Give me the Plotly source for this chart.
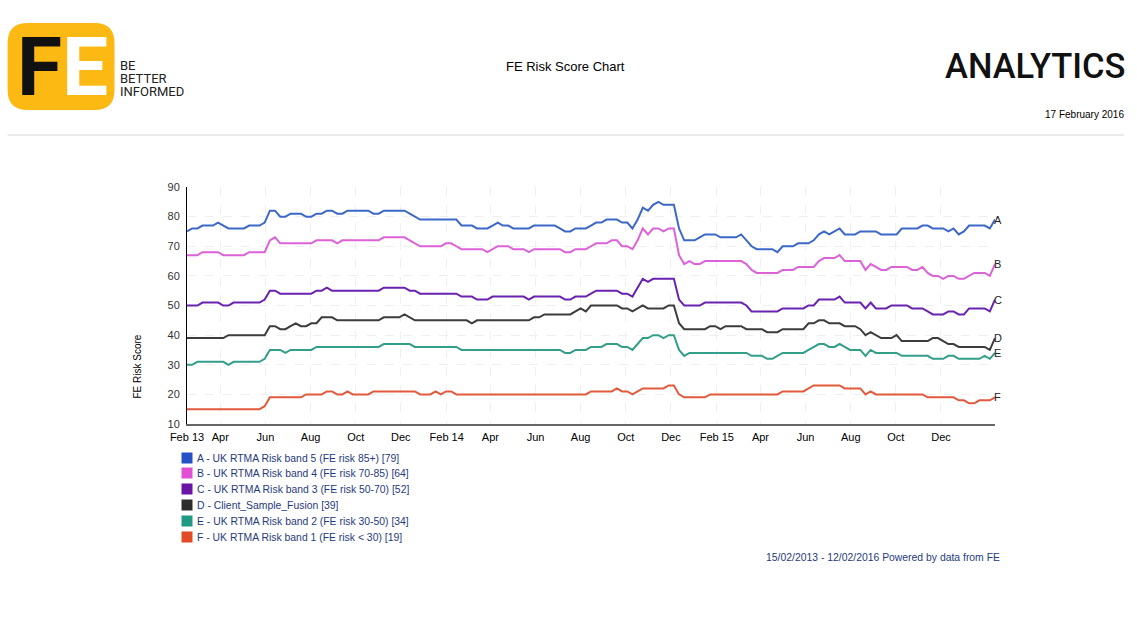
import pandas as pd
import plotly.graph_objects as go

# weekly points, 15 Feb 2013 to 12 Feb 2016
dates = pd.date_range('2013-02-15', periods=157, freq='7D')

band_a = [75,76,76,77,77,77,78,77,76,76, 76,76,77,77,77,78,82,82,80,80,
          81,81,81,80,80,81,81,82,82,81, 81,82,82,82,82,82,81,81,82,82,
          82,82,82,81,80,79,79,79,79,79, 79,79,79,77,77,77,76,76,76,77,
          78,77,77,76,76,76,76,77,77,77, 77,77,76,75,75,76,76,76,77,78,78,
          79,79,79,78,78,76,79,83,82,84, 85,84,84,84,76,72,72,72,73,74,
          74,74,73,73,73,73,74,72,70, 69,69,69,69,68,70,70,70,71,71,
          71,72,74,75,74,75,76,74,74,74, 75,75,75,75,74,74,74,74,76,76,
          76,76,77,77,76,76,76,75,76,74, 75,77,77,77,77,76,79]
band_b = [67,67,67,68,68,68,68,67,67,67, 67,67,68,68,68,68,72,73,71,71,
          71,71,71,71,71,72,72,72,72,71, 72,72,72,72,72,72,72,72,73,73,
          73,73,73,72,71,70,70,70,70,70, 71,71,70,69,69,69,69,69,68,69,
          70,70,70,69,69,69,68,69,69,69, 69,69,69,68,68,69,69,69,70,71,71,
          71,72,72,70,70,69,72,76,74,76, 76,75,76,76,67,64,65,64,64,65,
          65,65,65,65,65,65,65,64,62, 61,61,61,61,61,62,62,62,63,63,
          63,63,65,66,66,66,67,65,65,65, 65,62,64,63,62,62,63,63,63,63,
          62,62,63,61,60,60,59,60,60,59, 59,60,61,61,61,60,64]
band_c = [50,50,50,51,51,51,51,50,50,51, 51,51,51,51,51,52,55,55,54,54,
          54,54,54,54,54,55,55,56,55,55, 55,55,55,55,55,55,55,55,56,56,
          56,56,56,55,55,54,54,54,54,54, 54,54,54,53,53,53,52,52,52,53,
          53,53,53,53,53,53,52,53,53,53, 53,53,53,52,52,53,53,53,54,55,55,
          55,55,55,54,54,53,56,59,58,59, 59,59,59,59,52,50,50,50,50,51,
          51,51,51,51,51,51,51,50,48, 48,48,48,48,48,49,49,49,49,49,
          50,50,52,52,52,52,53,51,51,51, 51,49,51,49,49,49,50,50,50,50,
          49,49,49,48,47,47,47,48,48,47, 47,49,49,49,49,48,52]
client = [39,39,39,39,39,39,39,39,40,40, 40,40,40,40,40,40,43,43,42,42,
          43,44,43,43,44,44,46,46,46,45, 45,45,45,45,45,45,45,45,46,46,
          46,46,47,46,45,45,45,45,45,45, 45,45,45,45,45,44,45,45,45,45,
          45,45,45,45,45,45,45,46,46,47, 47,47,47,47,47,48,49,48,50,50,50,
          50,50,50,49,49,48,49,50,49,49, 49,49,50,50,44,42,42,42,42,42,
          43,43,42,43,43,43,43,42,42, 42,42,41,41,41,42,42,42,42,42,
          44,44,45,45,44,44,44,43,43,43, 42,40,41,40,39,39,39,40,38,38,
          38,38,38,38,39,39,38,37,37,36, 36,36,36,36,36,35,39]
band_e = [30,30,31,31,31,31,31,31,30,31, 31,31,31,31,31,32,35,35,35,34,
          35,35,35,35,35,36,36,36,36,36, 36,36,36,36,36,36,36,36,37,37,
          37,37,37,37,36,36,36,36,36,36, 36,36,36,35,35,35,35,35,35,35,
          35,35,35,35,35,35,35,35,35,35, 35,35,35,34,34,35,35,35,36,36,36,
          37,37,37,36,36,35,37,39,39,40, 40,39,40,40,35,33,34,34,34,34,
          34,34,34,34,34,34,34,34,33, 33,33,32,32,33,34,34,34,34,34,
          35,36,37,37,36,36,37,36,35,35, 35,33,35,34,34,34,34,34,33,33,
          33,33,33,33,32,32,32,33,33,32, 32,32,32,32,33,32,34]
band_f = [15,15,15,15,15,15,15,15,15,15, 15,15,15,15,15,16,19,19,19,19,
          19,19,19,20,20,20,20,21,21,20, 20,21,20,20,20,20,21,21,21,21,
          21,21,21,21,21,20,20,20,21,20, 21,21,20,20,20,20,20,20,20,20,
          20,20,20,20,20,20,20,20,20,20, 20,20,20,20,20,20,20,20,21,21,21,
          21,21,22,21,21,20,21,22,22,22, 22,22,23,23,20,19,19,19,19,19,
          20,20,20,20,20,20,20,20,20, 20,20,20,20,20,21,21,21,21,21,
          22,23,23,23,23,23,23,22,22,22, 22,20,21,20,20,20,20,20,20,20,
          20,20,20,19,19,19,19,19,19,18, 18,17,17,18,18,18,19]

letters = ['A', 'B', 'C', 'D', 'E', 'F']
names = ['A - UK RTMA Risk band 5 (FE risk 85+) [79]',
         'B - UK RTMA Risk band 4 (FE risk 70-85) [64]',
         'C - UK RTMA Risk band 3 (FE risk 50-70) [52]',
         'D - Client_Sample_Fusion [39]',
         'E - UK RTMA Risk band 2 (FE risk 30-50) [34]',
         'F - UK RTMA Risk band 1 (FE risk < 30) [19]']
series = [band_a, band_b, band_c, client, band_e, band_f]
line_colors = ['#3c68c8', '#dd62d8', '#6a22b0', '#3c3c3c', '#339f8a', '#e25a3c']
swatch_colors = ['#2450c8', '#e04fd6', '#6a14a8', '#2d2d2d', '#1f9a84', '#e24a26']

tick_dates = ['2013-02-15', '2013-04-01', '2013-06-01', '2013-08-01', '2013-10-01', '2013-12-01',
              '2014-02-01', '2014-04-01', '2014-06-01', '2014-08-01', '2014-10-01', '2014-12-01',
              '2015-02-01', '2015-04-01', '2015-06-01', '2015-08-01', '2015-10-01', '2015-12-01',
              '2016-02-12']
tick_labels = ['Feb 13', 'Apr', 'Jun', 'Aug', 'Oct', 'Dec',
               'Feb 14', 'Apr', 'Jun', 'Aug', 'Oct', 'Dec',
               'Feb 15', 'Apr', 'Jun', 'Aug', 'Oct', 'Dec', '']

W, H = 1137, 643
L, R, T, B = 186.5, 995, 187, 424
FONT = 'Liberation Sans'
NAVY = '#1f3a7d'

# page pixels -> paper coordinates of the plot area
def px(x):
    return (x - L) / (R - L)
def py(y):
    return (B - y) / (B - T)

def label(x, y, text, size=10, color='#000000', anchor='left', font=FONT, weight=None, **kw):
    return dict(xref='paper', yref='paper', x=px(x), y=py(y), text=text, showarrow=False,
                xanchor=anchor, yanchor='middle', borderpad=0, borderwidth=0,
                font=dict(family=font, size=size, color=color, weight=weight), **kw)

fig = go.Figure()
for name, values, color in zip(names, series, line_colors):
    fig.add_trace(go.Scatter(x=dates, y=values, mode='lines', name=name,
                             line=dict(color=color, width=2), showlegend=False))

annotations = []
shapes = []

# letters at the end of each line
for letter, values in zip(letters, series):
    annotations.append(dict(x=dates[-1], y=values[-1], text=letter, showarrow=False, xanchor='left',
                            yanchor='middle', xshift=-1, borderpad=0, borderwidth=0,
                            font=dict(family=FONT, size=11, color='#222222')))

# legend
legend_y = [458, 473, 489, 505, 521, 537]
for name, color, y in zip(names, swatch_colors, legend_y):
    shapes.append(dict(type='rect', xref='paper', yref='paper', x0=px(181), x1=px(192), y0=py(y - 5.5), y1=py(y + 5.5),
                       fillcolor=color, line=dict(width=0)))
    annotations.append(label(197, y, name.replace('<', '&lt;'), size=10.4, color=NAVY))

# header
x0, x1, y0, y1, r = px(7), px(114), py(23), py(110), 20
rx, ry = r / (R - L), r / (B - T)
shapes.append(dict(type='path', xref='paper', yref='paper', fillcolor='#fdb913', line=dict(width=0),
                   path=f'M {x0 + rx} {y0} L {x1 - rx} {y0} Q {x1} {y0} {x1} {y0 - ry} L {x1} {y1 + ry} '
                        f'Q {x1} {y1} {x1 - rx} {y1} L {x0 + rx} {y1} Q {x0} {y1} {x0} {y1 + ry} '
                        f'L {x0} {y0 - ry} Q {x0} {y0} {x0 + rx} {y0} Z'))
annotations.append(label(16, 67, '<b><span style="color:#111111">F</span><span style="color:#ffffff">E</span></b>',
                         size=82, font='Roboto'))
annotations.append(label(119, 65, 'BE', size=13, color='#222222', font='Roboto'))
annotations.append(label(119, 78, 'BETTER', size=13, color='#222222', font='Roboto'))
annotations.append(label(119, 91, 'INFORMED', size=13, color='#222222', font='Roboto'))
annotations.append(label(565, 66, 'FE Risk Score Chart', size=13, anchor='center'))
annotations.append(label(1125, 66, 'ANALYTICS', size=34.5, anchor='right', color='#111111', font='Roboto', weight=500))
annotations.append(label(1124, 115, '17 February 2016', size=10, anchor='right'))
shapes.append(dict(type='line', xref='paper', yref='paper', x0=px(7), x1=px(1124), y0=py(135), y1=py(135),
                   line=dict(color='#d4d4d4', width=1)))

# axis title and footer
annotations.append(label(136, 367, 'FE Risk Score', size=10, anchor='center', textangle=-90))
annotations.append(label(1000, 557, '15/02/2013 - 12/02/2016 Powered by data from FE', size=10.4, anchor='right', color=NAVY))

fig.update_layout(width=W, height=H, margin=dict(l=L, r=W - R, t=T, b=H - B),
                  paper_bgcolor='white', plot_bgcolor='white', showlegend=False,
                  font=dict(family=FONT, size=11, color='#333333'),
                  annotations=annotations, shapes=shapes)
fig.update_xaxes(type='date', range=['2013-02-15', '2016-02-12'], tickmode='array',
                 tickvals=tick_dates, ticktext=tick_labels, tickangle=0, ticks='',
                 showgrid=True, gridcolor='#efefef', griddash='dash', gridwidth=1,
                 showline=True, linecolor='#666666', linewidth=1.5, zeroline=False,
                 ticklabelstandoff=2, tickfont=dict(color='#000000'))
fig.update_yaxes(range=[10, 90], tickmode='array', tickvals=[10, 20, 30, 40, 50, 60, 70, 80, 90], ticks='',
                 showgrid=True, gridcolor='#efefef', griddash='dash', gridwidth=1,
                 showline=True, linecolor='#000000', linewidth=1, zeroline=False,
                 ticklabelstandoff=4, tickfont=dict(color='#333333'))

fig.write_html('out.html', config={'displayModeBar': False}, post_script="document.body.style.margin='0';")
